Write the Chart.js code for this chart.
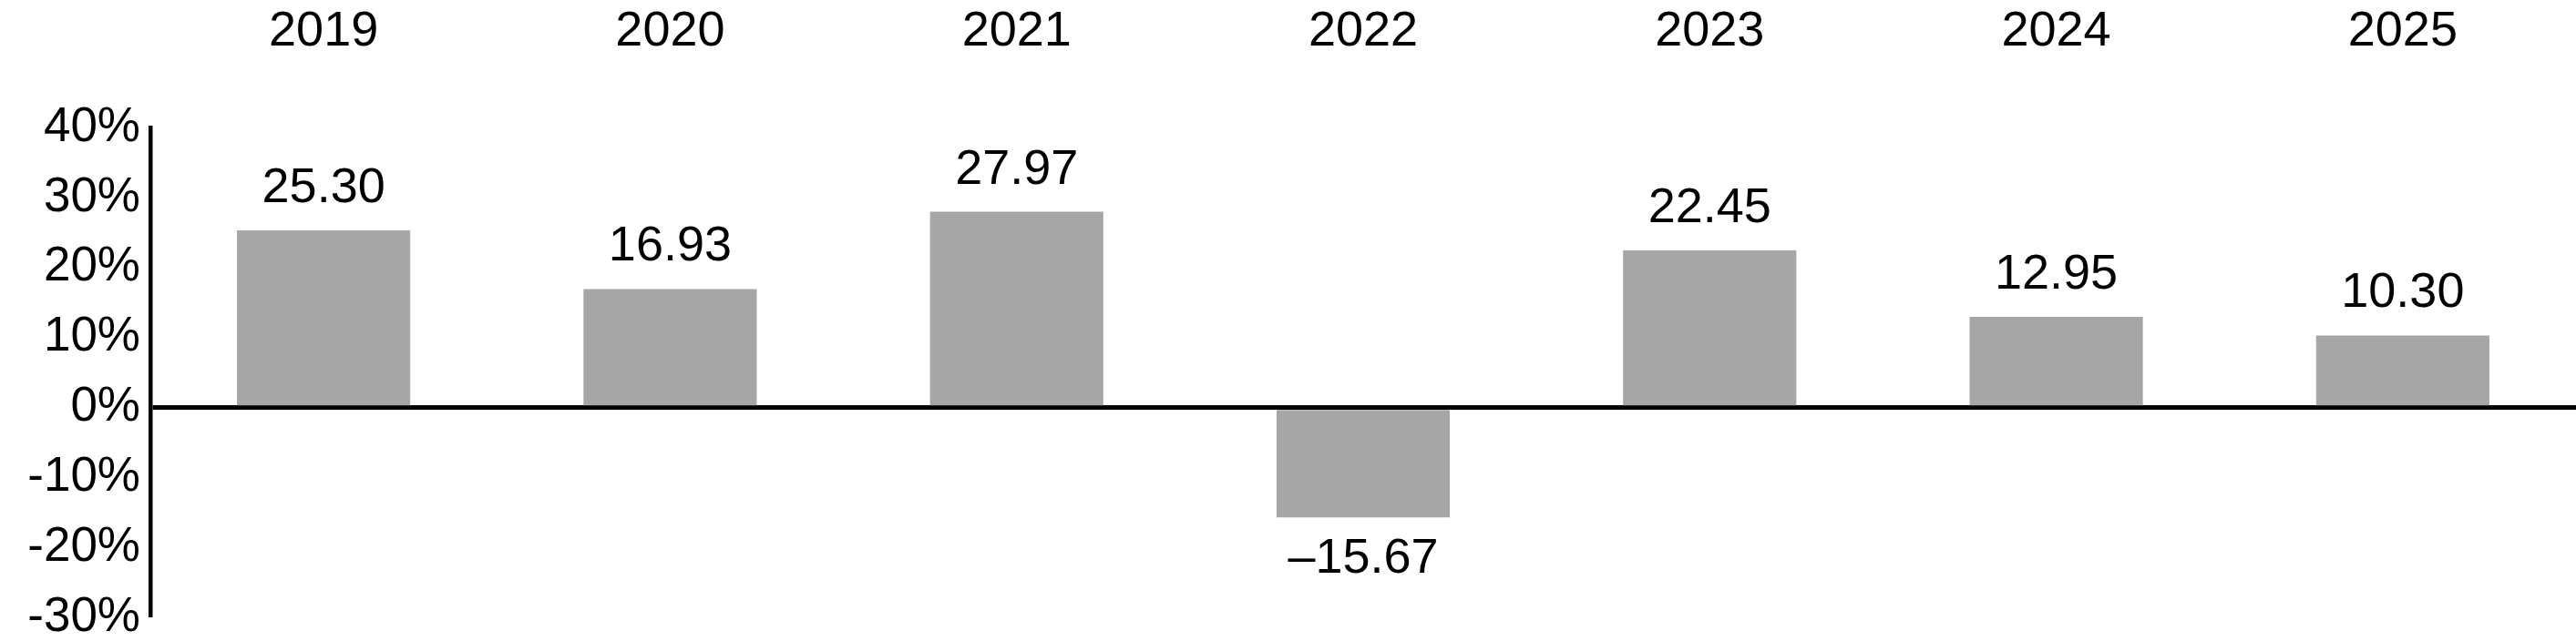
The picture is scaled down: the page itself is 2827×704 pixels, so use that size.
<!DOCTYPE html>
<html>
<head>
<meta charset="utf-8">
<script src="https://cdn.jsdelivr.net/npm/chart.js@4/dist/chart.umd.min.js"></script>
<style>
  html, body { margin: 0; padding: 0; background: #fff; }
  #wrap { width: 2827px; height: 704px; }
</style>
</head>
<body>
<div id="wrap"><canvas id="myChart"></canvas></div>
<script>
var years = ["2019", "2020", "2021", "2022", "2023", "2024", "2025"];
var returns = [25.30, 16.93, 27.97, -15.67, 22.45, 12.95, 10.30];
var yMin = -30;
var yMax = 40;

// value labels above / below each bar
var barLabels = {
  id: 'barLabels',
  afterDatasetsDraw: function (chart) {
    var ctx = chart.ctx;
    var meta = chart.getDatasetMeta(0);
    ctx.save();
    ctx.font = '54px "Liberation Sans", Arial, sans-serif';
    ctx.fillStyle = '#000';
    ctx.textAlign = 'center';
    ctx.textBaseline = 'alphabetic';
    meta.data.forEach(function (bar, i) {
      var v = returns[i];
      var txt = (v < 0 ? '\u2013' : '') + Math.abs(v).toFixed(2);
      if (v >= 0) {
        ctx.fillText(txt, bar.x, bar.y - 31);
      } else {
        ctx.fillText(txt, bar.x, bar.y + 61);
      }
    });
    ctx.restore();
  }
};

var ctx = document.getElementById('myChart').getContext('2d');
var myBarChart = new Chart(ctx, {
  type: 'bar',
  data: {
    labels: years,
    datasets: [{
      data: returns,
      backgroundColor: '#a6a6a6',
      borderWidth: 0,
      barPercentage: 0.5,
      categoryPercentage: 1.0
    }]
  },
  options: {
    responsive: true,
    maintainAspectRatio: false,
    animation: false,
    layout: {
      padding: 0
    },
    plugins: {
      legend: { display: false },
      tooltip: { enabled: false }
    },
    scales: {
      x: {
        position: 'top',
        grid: { display: false, drawTicks: false },
        border: { display: false },
        ticks: {
          color: '#000',
          padding: 78,
          font: { family: '"Liberation Sans", Arial, sans-serif', size: 54, lineHeight: 1 }
        },
        afterFit: function (scale) { scale.height = 140; }
      },
      y: {
        min: yMin,
        max: yMax,
        grid: {
          drawTicks: false,
          color: function (c) { return c.tick && c.tick.value === 0 ? '#000' : 'rgba(0,0,0,0)'; },
          lineWidth: function (c) { return c.tick && c.tick.value === 0 ? 5 : 0; }
        },
        border: { display: true, color: '#000', width: 4.5 },
        ticks: {
          stepSize: 10,
          color: '#000',
          padding: 11,
          // small lineHeight keeps the -30% label from pushing the plot up
          font: { family: '"Liberation Sans", Arial, sans-serif', size: 53, lineHeight: 0.55 },
          callback: function (v) { return v + '%'; }
        },
        afterFit: function (scale) { scale.width = 165; }
      }
    }
  },
  plugins: [barLabels]
});
</script>
</body>
</html>
